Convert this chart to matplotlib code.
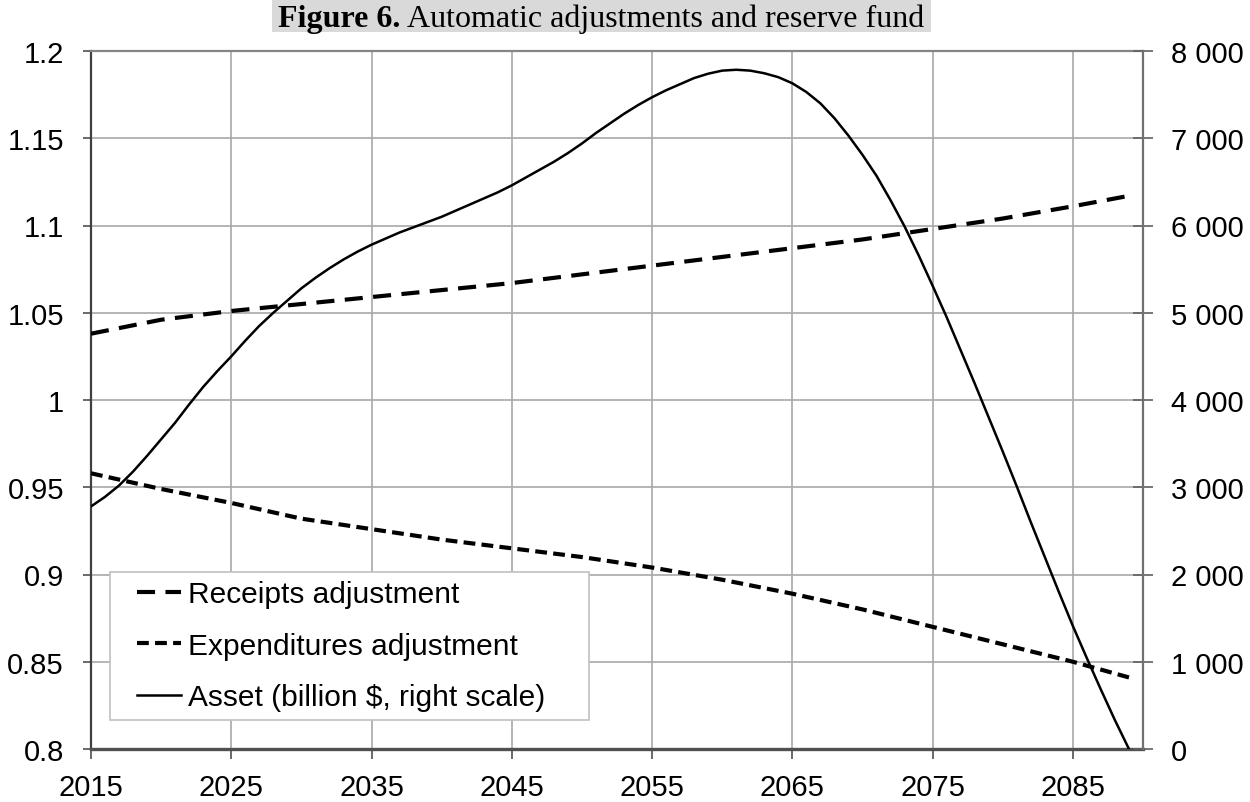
import numpy as np
import matplotlib.pyplot as plt
from matplotlib.patches import Rectangle
from matplotlib.ticker import FuncFormatter
from matplotlib.legend_handler import HandlerLine2D

plt.rcParams['font.family'] = ['Liberation Sans', 'DejaVu Sans']
plt.rcParams['lines.scale_dashes'] = False

# adjustment factors (left scale)
adj_years = [2015, 2020, 2025, 2030, 2035, 2040, 2045, 2050, 2055, 2060,
             2065, 2070, 2075, 2080, 2085, 2089]
receipts = [1.038, 1.046, 1.051, 1.055, 1.059, 1.063, 1.067, 1.072, 1.077,
            1.082, 1.087, 1.092, 1.098, 1.104, 1.111, 1.117]
expenditures = [0.958, 0.949, 0.941, 0.932, 0.926, 0.920, 0.915, 0.910,
                0.904, 0.897, 0.889, 0.880, 0.870, 0.860, 0.850, 0.841]

# reserve fund assets, billion $ (right scale), one value per year
asset_years = list(range(2015, 2090))
asset = [2780, 2890, 3020, 3180, 3360, 3550, 3740, 3950, 4150, 4330,
         4500, 4680, 4850, 5000, 5140, 5280, 5400, 5510, 5610, 5700,
         5780, 5850, 5920, 5980, 6040, 6100, 6170, 6240, 6310, 6380,
         6460, 6550, 6640, 6730, 6830, 6940, 7060, 7170, 7280, 7380,
         7470, 7550, 7620, 7690, 7740, 7775, 7785, 7775, 7745, 7700,
         7630, 7530, 7400, 7230, 7030, 6810, 6570, 6290, 5990, 5660,
         5310, 4950, 4570, 4190, 3800, 3410, 3010, 2600, 2200, 1800,
         1410, 1040, 680, 330, 0]

W, H = 1250, 803
fig = plt.figure(figsize=(W / 100, H / 100), dpi=100)
ax = fig.add_axes([91 / W, (H - 750) / H, (1143 - 91) / W, (750 - 52) / H])
ax2 = ax.twinx()

l1, = ax.plot(adj_years, receipts, color='black', lw=3.0, dashes=(13, 7.5),
              label='Receipts adjustment', zorder=3)
l2, = ax.plot(adj_years, expenditures, color='black', lw=3.0, dashes=(8.5, 4.5),
              label='Expenditures adjustment', zorder=3)
l3, = ax2.plot(asset_years, asset, color='black', lw=1.8,
               label='Asset (billion $, right scale)', zorder=3)

ax.set_xlim(2015, 2090)
ax.set_ylim(0.8, 1.2)
ax2.set_ylim(0, 8000)
ax.set_xticks(range(2015, 2090, 10))
ax.set_yticks(np.arange(0.8, 1.2001, 0.05))
ax2.set_yticks(range(0, 8001, 1000))
ax.yaxis.set_major_formatter(FuncFormatter(lambda v, p: f"{v:g}"))
ax2.yaxis.set_major_formatter(FuncFormatter(lambda v, p: f"{int(v):,}".replace(',', ' ')))

ax.grid(True, color='#a8a8a8', lw=1.2)
ax.set_axisbelow(True)

ax.spines['left'].set_color('#404040')
ax.spines['left'].set_linewidth(1.6)
ax.spines['bottom'].set_color('#505050')
ax.spines['bottom'].set_linewidth(2.4)
ax.spines['top'].set_color('#858585')
ax.spines['top'].set_linewidth(1.6)
ax.spines['right'].set_visible(False)
for s in ['left', 'bottom', 'top']:
    ax2.spines[s].set_visible(False)
ax2.spines['right'].set_color('#707070')
ax2.spines['right'].set_linewidth(1.6)

ax.tick_params(axis='y', direction='out', length=6, width=1.2, color='#505050',
               labelsize=21, pad=13.5)
ax.tick_params(axis='x', direction='out', length=7, width=1.2, color='#505050',
               labelsize=21, pad=10)
ax2.tick_params(axis='y', direction='inout', length=14, width=1.2, color='#606060',
                labelsize=21, pad=13)


class ShiftedLine(HandlerLine2D):
    # legend sample starts a bit to the right, as in the original
    def get_xdata(self, legend, xdescent, ydescent, width, height, fontsize):
        shift = 13
        return ([-xdescent + shift, -xdescent + width],
                [-xdescent + shift + 0.5 * (width - shift)])


leg = ax2.legend(handles=[l1, l2, l3], loc='lower left',
                 bbox_to_anchor=(19 / 1052, 29 / 698, 479 / 1052, 0.2),
                 mode='expand', borderaxespad=0, fontsize=21.5, frameon=True,
                 fancybox=False, edgecolor='#c0c0c0', framealpha=1,
                 handlelength=2.07, handletextpad=0.23, labelspacing=0.78,
                 borderpad=0.3,
                 handler_map={l1: ShiftedLine(), l2: ShiftedLine(), l3: ShiftedLine()})
leg.get_frame().set_linewidth(1.2)

# title with grey highlight
tfont = dict(fontfamily='Liberation Serif', fontsize=23, va='baseline', ha='left')
t1 = fig.text(0, 0, 'Figure 6.', fontweight='bold', **tfont)
t2 = fig.text(0, 0, 'Automatic adjustments and reserve fund', **tfont)
fig.canvas.draw()
r = fig.canvas.get_renderer()
w1 = t1.get_window_extent(r).width
w2 = t2.get_window_extent(r).width
gap = 6
total = w1 + gap + w2
cx = 601
x0 = cx - total / 2
base = H - 27
t1.set_position((x0 / W, base / H))
t2.set_position(((x0 + w1 + gap) / W, base / H))
fig.patches.append(Rectangle((272 / W, (H - 33) / H), (931 - 272) / W, 33 / H,
                             transform=fig.transFigure, facecolor='#d9d9d9',
                             edgecolor='none', zorder=-1))

fig.savefig('out.png', dpi=100)
